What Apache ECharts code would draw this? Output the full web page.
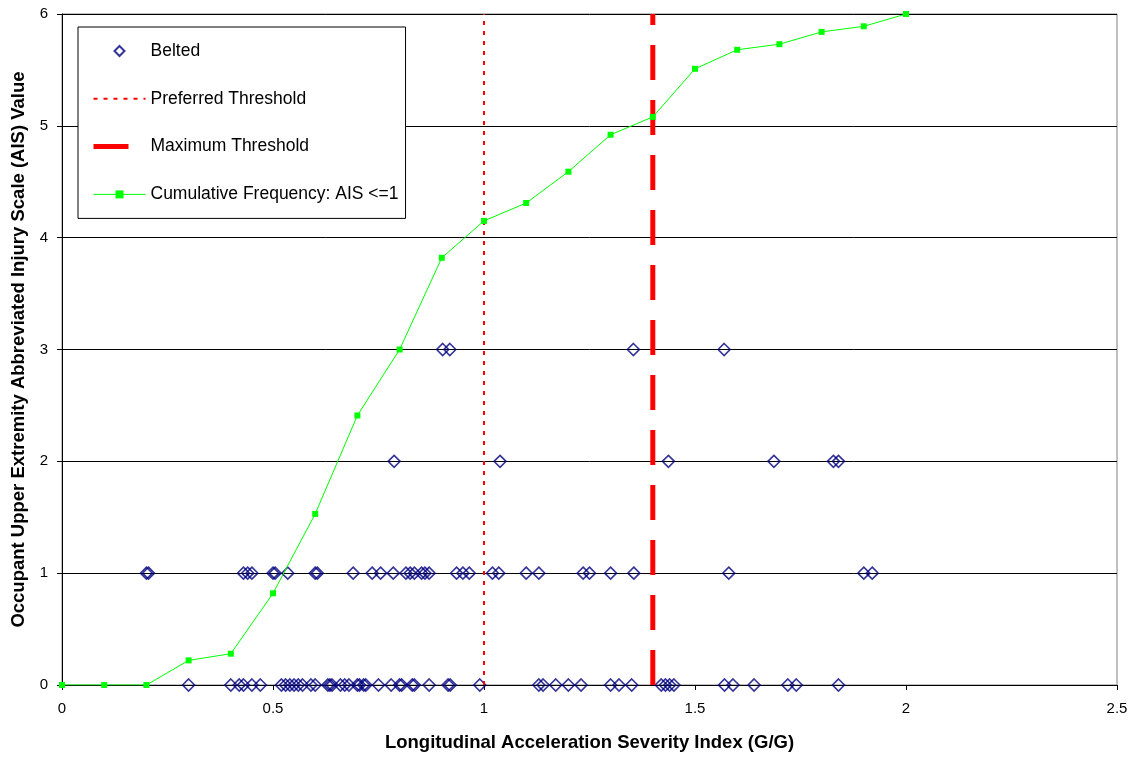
<!DOCTYPE html>
<html>
<head>
<meta charset="utf-8">
<script src="https://cdn.jsdelivr.net/npm/echarts@6/dist/echarts.min.js"></script>
<style>
html,body{margin:0;padding:0;background:#fff;}
#chart{width:1138px;height:759px;}
</style>
</head>
<body>
<div id="chart"></div>
<script>
// Belted occupants: ASI values at each AIS level
const ais0 = [0.30,0.40,0.42,0.43,0.45,0.47,0.52,0.53,0.54,0.55,0.56,0.57,0.59,0.60,0.63,0.635,0.64,0.66,0.67,0.68,0.70,0.705,0.715,0.72,0.75,0.78,0.80,0.805,0.83,0.835,0.87,0.915,0.92,0.99,1.13,1.14,1.17,1.20,1.23,1.30,1.32,1.35,1.42,1.43,1.44,1.45,1.57,1.59,1.64,1.72,1.74,1.84];
const ais1 = [0.20,0.205,0.43,0.44,0.45,0.50,0.505,0.535,0.60,0.605,0.69,0.735,0.755,0.785,0.815,0.825,0.835,0.852,0.86,0.87,0.935,0.95,0.965,1.02,1.035,1.10,1.13,1.235,1.25,1.30,1.355,1.58,1.90,1.92];
const ais2 = [0.787,1.038,1.437,1.687,1.828,1.840];
const ais3 = [0.902,0.919,1.354,1.569];

// Cumulative frequency curve (scaled to AIS axis)
const cumX = [0,0.1,0.2,0.3,0.4,0.5,0.6,0.7,0.8,0.9,1.0,1.1,1.2,1.3,1.4,1.5,1.6,1.7,1.8,1.9,2.0];
const cumY = [0,0,0,0.22,0.28,0.82,1.53,2.41,3.0,3.82,4.15,4.31,4.59,4.92,5.08,5.51,5.68,5.73,5.84,5.89,6.0];

const preferredThreshold = 1.0;
const maximumThreshold = 1.4;
const yRange = [0, 6];

const seriesNames = ['Belted','Preferred Threshold','Maximum Threshold','Cumulative Frequency: AIS <=1'];

const beltedData = [];
[[0,ais0],[1,ais1],[2,ais2],[3,ais3]].forEach(([lvl, arr]) => arr.forEach(x => beltedData.push([x, lvl])));
const cumData = cumX.map((x, i) => [x, cumY[i]]);

// legend icon: small diamond centred in the 52x10 legend icon box
const diamondLegendIcon = 'path://M0,0M52,10M26,-0.5L31.5,5L26,10.5L20.5,5Z';

const FONT = 'Liberation Sans, Arial, sans-serif';
const chart = echarts.init(document.getElementById('chart'), null, {renderer:'canvas'});
chart.setOption({
  animation: false,
  backgroundColor: '#fff',
  grid: {left: 62, right: 21, top: 14, bottom: 74, show: true, borderColor: '#808080', borderWidth: 1, containLabel: false},
  legend: {
    orient: 'vertical', left: 78, top: 27,
    padding: [15, 7, 15, 13],
    itemWidth: 52, itemHeight: 10, itemGap: 29.8,
    backgroundColor: '#fff', borderColor: '#000', borderWidth: 1,
    textStyle: {fontFamily: FONT, fontSize: 17.5, color: '#000'},
    data: [
      {name: seriesNames[0], icon: diamondLegendIcon},
      {name: seriesNames[1], itemStyle: {opacity: 0}, lineStyle: {width: 2}},
      {name: seriesNames[2], itemStyle: {opacity: 0}, lineStyle: {width: 5}},
      {name: seriesNames[3], lineStyle: {width: 1}}
    ]
  },
  xAxis: {
    type: 'value', min: 0, max: 2.5, interval: 0.5,
    name: 'Longitudinal Acceleration Severity Index (G/G)',
    nameLocation: 'middle', nameGap: 48,
    nameTextStyle: {fontFamily: FONT, fontSize: 18.5, fontWeight: 'bold', color: '#000'},
    axisLine: {show: true, onZero: false, lineStyle: {color: '#000', width: 1}},
    axisTick: {show: true, length: 5, lineStyle: {color: '#000'}},
    axisLabel: {fontFamily: FONT, fontSize: 15, color: '#000', margin: 16},
    splitLine: {show: false}
  },
  yAxis: {
    type: 'value', min: 0, max: 6, interval: 1,
    name: 'Occupant Upper Extremity Abbreviated Injury Scale (AIS) Value',
    nameLocation: 'middle', nameGap: 30, nameRotate: 90,
    nameTextStyle: {fontFamily: FONT, fontSize: 18.5, fontWeight: 'bold', color: '#000'},
    axisLine: {show: true, onZero: false, lineStyle: {color: '#000', width: 1}},
    axisTick: {show: true, length: 5, lineStyle: {color: '#000'}},
    axisLabel: {fontFamily: FONT, fontSize: 15, color: '#000', margin: 14},
    splitLine: {show: true, lineStyle: {color: '#000', width: 1}}
  },
  series: [
    {
      name: seriesNames[0], type: 'scatter', data: beltedData, z: 3,
      symbol: 'diamond', symbolSize: 12,
      itemStyle: {color: 'rgba(255,255,255,0)', borderColor: '#000080', borderWidth: 1.6}
    },
    {
      name: seriesNames[1], type: 'line', data: [[preferredThreshold, yRange[0]], [preferredThreshold, yRange[1]]],
      symbol: 'none', z: 4,
      lineStyle: {color: '#ff0000', width: 2, type: [4, 6]},
      itemStyle: {color: '#ff0000'}
    },
    {
      name: seriesNames[2], type: 'line', data: [[maximumThreshold, yRange[0]], [maximumThreshold, yRange[1]]],
      symbol: 'none', z: 4,
      lineStyle: {color: '#ff0000', width: 5, type: [35, 20]},
      itemStyle: {color: '#ff0000'}
    },
    {
      name: seriesNames[3], type: 'line', data: cumData, z: 5,
      symbol: 'rect', symbolSize: 6, showSymbol: true,
      lineStyle: {color: '#00ff00', width: 1},
      itemStyle: {color: '#00ff00'}
    }
  ]
});
</script>
</body>
</html>
